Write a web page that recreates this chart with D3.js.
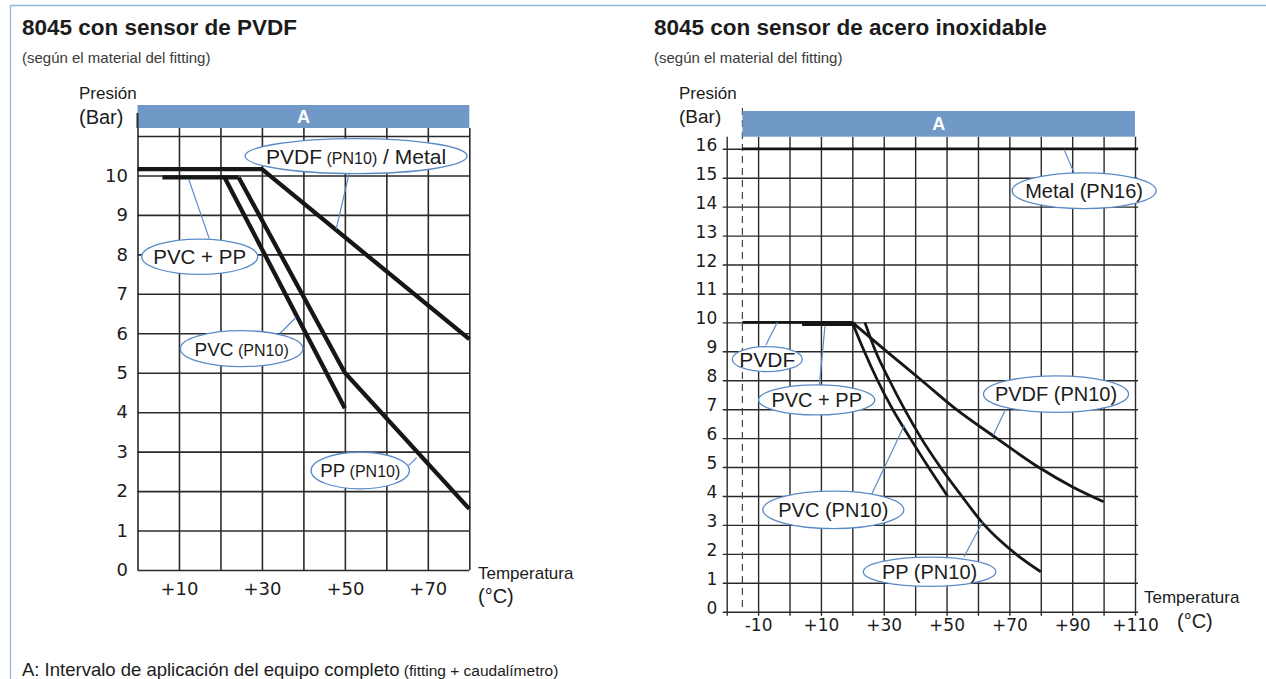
<!DOCTYPE html>
<html lang="es">
<head>
<meta charset="utf-8">
<title>8045 – presión / temperatura</title>
<script src="https://cdn.jsdelivr.net/npm/d3@7/dist/d3.min.js"></script>
<style>
  html, body { margin: 0; padding: 0; background: #fff; }
  svg { display: block; font-family: "Liberation Sans", Arial, Helvetica, sans-serif; }
  text { white-space: pre; }
</style>
</head>
<body>
<svg id="sheet" width="1266" height="679"></svg>
<script>
// ---- 8045 con sensor de PVDF: [temperatura °C, presión bar] ----
const pvdfTempLabels = [10, 30, 50, 70];
const pvdfPressureLabels = [0, 1, 2, 3, 4, 5, 6, 7, 8, 9, 10];
const pvdfMetal = [[0, 10.16], [30, 10.16], [80, 5.85]];
const pvdfPvcPp = [[6, 9.95], [24.4, 9.95]];
const pvdfPvc = [[21, 9.95], [50, 4.1]];
const pvdfPp = [[24.4, 9.95], [50, 5], [80, 1.55]];

// ---- 8045 con sensor de acero inoxidable ----
const steelTempLabels = [-10, 10, 30, 50, 70, 90, 110];
const steelPressureLabels = [0, 1, 2, 3, 4, 5, 6, 7, 8, 9, 10, 11, 12, 13, 14, 15, 16];
const steelMetal = [[-15, 16], [111, 16]];
const steelPvdfFlat = [[-15, 10], [20, 10]];
const steelPvcPpFlat = [[4, 9.94], [21, 9.94]];
const steelPvc = [[20, 10], [23.8, 9], [28, 8], [32.8, 7], [38.4, 6], [44.2, 5], [50.3, 4]];
const steelPp = [[24, 10], [27.4, 9], [31.8, 8], [36.6, 7], [41.9, 6], [48, 5], [54.8, 4], [62, 3], [72, 2], [80, 1.38]];
const steelPvdf = [[20, 10], [30.9, 9], [42, 8], [53, 7], [65.9, 6], [79.2, 5], [90, 4.32], [100, 3.8]];

const fmtTemp = (d) => (d > 0 ? `+${d}` : `${d}`);
const blue = "#5b8bc7";
const ink = "#1c1c1c";

class PressureChart {
  constructor(svg, opts) {
    this.svg = svg;
    Object.assign(this, opts);
    this.init();
  }

  init() {
    this.setup();
    this.renderGrid();
    this.renderBand();
    this.renderSeries();
    this.renderCallouts();
    this.renderTexts();
  }

  setup() {
    this.x = d3.scaleLinear().domain(this.tempDomain).range(this.xRange);
    this.y = d3.scaleLinear().domain(this.pressureDomain).range(this.yRange);
    this.line = d3.line().x((d) => this.x(d[0])).y((d) => this.y(d[1]));
    this.g = this.svg.append("g");
  }

  renderGrid() {
    const [x0, x1] = this.xRange;
    const [t0, t1] = this.tempDomain;
    const [p0, p1] = this.pressureDomain;
    const gridEnd = x1 + this.gridOverhang;

    const yAxis = this.g
      .append("g")
      .attr("transform", `translate(${gridEnd},0)`)
      .call(
        d3
          .axisLeft(this.y)
          .tickValues(d3.range(p0, p1 + 1, 1))
          .tickSize(gridEnd - x0 + this.tickOut)
          .tickPadding(this.yPad)
          .tickFormat((d) => (this.pressureLabels.includes(d) ? d : ""))
      );

    const xAxis = this.g
      .append("g")
      .attr("transform", `translate(0,${this.gridTop})`)
      .call(
        d3
          .axisBottom(this.x)
          .tickValues(d3.range(t0, t1 + 1, 10))
          .tickSize(this.y(p0) - this.gridTop + this.tickOut)
          .tickPadding(this.xPad)
          .tickFormat((d) => (this.tempLabels.includes(d) ? fmtTemp(d) : ""))
      );

    [yAxis, xAxis].forEach((a) => {
      a.select(".domain").remove();
      a.attr("font-family", '"DejaVu Sans", sans-serif').attr("font-size", this.tickFont);
      a.selectAll("line").attr("stroke", "#2a2a2a").attr("stroke-width", this.gridWidth);
      a.selectAll("text").attr("fill", ink);
    });
    yAxis.selectAll("text").attr("dy", this.yLabelDy);

    // dashed lower limit, starts above the band
    if (this.dashedAt !== undefined) {
      this.g
        .append("line")
        .attr("x1", this.x(this.dashedAt))
        .attr("x2", this.x(this.dashedAt))
        .attr("y1", this.dashedTop)
        .attr("y2", this.y(p0))
        .attr("stroke", "#444")
        .attr("stroke-width", 1.2)
        .attr("stroke-dasharray", "7,5");
    }
  }

  renderBand() {
    const bx0 = this.x(this.band[0]);
    const bx1 = this.x(this.band[1]);
    this.g
      .append("rect")
      .attr("x", bx0)
      .attr("y", this.bandTop)
      .attr("width", bx1 - bx0)
      .attr("height", this.gridTop - this.bandTop)
      .attr("fill", "#7099c7");
    this.g
      .append("text")
      .attr("x", (bx0 + bx1) / 2)
      .attr("y", (this.bandTop + this.gridTop) / 2)
      .attr("dy", "0.36em")
      .attr("text-anchor", "middle")
      .attr("font-weight", "bold")
      .attr("font-size", 18)
      .attr("fill", "#fff")
      .text("A");

    // left axis reaching into the band
    if (this.axisTop !== undefined) {
      this.g
        .append("line")
        .attr("x1", this.xRange[0])
        .attr("x2", this.xRange[0])
        .attr("y1", this.axisTop)
        .attr("y2", this.gridTop)
        .attr("stroke", "#2a2a2a")
        .attr("stroke-width", 2);
    }
  }

  renderSeries() {
    this.g
      .append("g")
      .selectAll("path")
      .data(this.series)
      .join("path")
      .attr("d", (d) => this.line.curve(d.curve || d3.curveLinear)(d.points))
      .attr("fill", "none")
      .attr("stroke", "#161616")
      .attr("stroke-width", (d) => d.width)
      .attr("stroke-linejoin", "miter");
  }

  renderCallouts() {
    const c = this.g.append("g").selectAll("g").data(this.callouts).join("g");
    c.append("line")
      .attr("x1", (d) => this.x(d.from[0]))
      .attr("y1", (d) => this.y(d.from[1]))
      .attr("x2", (d) => this.x(d.to[0]))
      .attr("y2", (d) => this.y(d.to[1]))
      .attr("stroke", blue)
      .attr("stroke-width", 1.2);
    c.append("ellipse")
      .attr("cx", (d) => this.x(d.at[0]))
      .attr("cy", (d) => this.y(d.at[1]))
      .attr("rx", (d) => d.rx)
      .attr("ry", (d) => d.ry)
      .attr("fill", "#fff")
      .attr("stroke", blue)
      .attr("stroke-width", 1.3);
    c.append("text")
      .attr("x", (d) => this.x(d.at[0]))
      .attr("y", (d) => this.y(d.at[1]))
      .attr("dy", (d) => d.parts[0][1] * 0.36)
      .attr("text-anchor", "middle")
      .attr("fill", ink)
      .selectAll("tspan")
      .data((d) => d.parts)
      .join("tspan")
      .attr("font-size", (p) => p[1])
      .text((p) => p[0]);
  }

  renderTexts() {
    this.g
      .selectAll(".label")
      .data(this.texts)
      .join("text")
      .attr("class", "label")
      .attr("x", (d) => d.x)
      .attr("y", (d) => d.y)
      .attr("font-size", (d) => d.size)
      .attr("font-weight", (d) => d.weight || "normal")
      .attr("fill", (d) => d.color || ink)
      .text((d) => d.text);
  }
}

const sheet = d3.select("#sheet");

// light blue page frame
sheet.append("line").attr("x1", 10).attr("x2", 1266).attr("y1", 5.5).attr("y2", 5.5)
  .attr("stroke", "#93b3da").attr("stroke-width", 1.3);
sheet.append("line").attr("x1", 10.5).attr("x2", 10.5).attr("y1", 5).attr("y2", 679)
  .attr("stroke", "#93b3da").attr("stroke-width", 1.3);

new PressureChart(sheet, {
  tempDomain: [0, 80],
  xRange: [137.5, 469.3],
  pressureDomain: [0, 11],
  yRange: [570, 136],
  tempLabels: pvdfTempLabels,
  pressureLabels: pvdfPressureLabels,
  gridTop: 128,
  bandTop: 105,
  band: [0, 80],
  axisTop: 113,
  gridOverhang: 0,
  tickOut: 0,
  yPad: 9.5,
  xPad: 12,
  yLabelDy: "0.32em",
  tickFont: 18,
  gridWidth: 1.6,
  series: [
    { points: pvdfMetal, width: 4.3 },
    { points: pvdfPvcPp, width: 4.3 },
    { points: pvdfPvc, width: 4.3 },
    { points: pvdfPp, width: 4.3 },
  ],
  callouts: [
    { parts: [["PVDF", 21], [" (PN10)", 16], [" / Metal", 21]], at: [52.7, 10.49], rx: 111, ry: 17.5, from: [51.0, 10.04], to: [47.9, 8.64] },
    { parts: [["PVC + PP", 20.5]], at: [15.0, 7.94], rx: 58, ry: 17.7, from: [17.3, 8.4], to: [12.4, 9.89] },
    { parts: [["PVC", 19], [" (PN10)", 16]], at: [25.1, 5.61], rx: 61.3, ry: 18, from: [34.4, 6.0], to: [38.2, 6.4] },
    { parts: [["PP", 18.7], [" (PN10)", 16]], at: [53.7, 2.52], rx: 49.2, ry: 18.3, from: [65.3, 2.64], to: [67.3, 2.85] },
  ],
  texts: [
    { text: "8045 con sensor de PVDF", x: 22, y: 34.5, size: 22.5, weight: "bold" },
    { text: "(según el material del fitting)", x: 22, y: 62.5, size: 15, color: "#3a3a3a" },
    { text: "Presión", x: 79, y: 99, size: 17 },
    { text: "(Bar)", x: 79, y: 124, size: 20 },
    { text: "Temperatura", x: 478, y: 579, size: 17 },
    { text: "(°C)", x: 478, y: 603, size: 20 },
  ],
});

new PressureChart(sheet, {
  tempDomain: [-20, 110],
  xRange: [726.7, 1135],
  pressureDomain: [0, 16],
  yRange: [611.7, 148.8],
  tempLabels: steelTempLabels,
  pressureLabels: steelPressureLabels,
  gridTop: 136.7,
  bandTop: 111,
  band: [-15, 110],
  dashedAt: -15,
  dashedTop: 108,
  gridOverhang: 3,
  tickOut: 4,
  yPad: 5.5,
  xPad: 3.6,
  yLabelDy: "1.5px",
  tickFont: 17,
  gridWidth: 1.4,
  series: [
    { points: steelMetal, width: 2.8 },
    { points: steelPvdfFlat, width: 2.8 },
    { points: steelPvcPpFlat, width: 4 },
    { points: steelPvdf, width: 2.8, curve: d3.curveMonotoneX },
    { points: steelPvc, width: 2.8, curve: d3.curveMonotoneX },
    { points: steelPp, width: 2.8, curve: d3.curveMonotoneX },
  ],
  callouts: [
    { parts: [["Metal (PN16)", 20]], at: [93.8, 14.55], rx: 72, ry: 17.8, from: [90.6, 15.17], to: [87.4, 15.98] },
    { parts: [["PVDF", 21]], at: [-7.07, 8.73], rx: 35, ry: 12.5, from: [-7.5, 9.22], to: [-3.9, 10] },
    { parts: [["PVC + PP", 20]], at: [8.65, 7.32], rx: 58, ry: 15, from: [9.48, 7.8], to: [11.3, 9.89] },
    { parts: [["PVC (PN10)", 20]], at: [13.94, 3.52], rx: 70.5, ry: 18.7, from: [26.17, 4.06], to: [36.6, 6.45] },
    { parts: [["PP (PN10)", 20]], at: [44.6, 1.38], rx: 66.3, ry: 14.7, from: [55.55, 1.9], to: [61.5, 3.1] },
    { parts: [["PVDF (PN10)", 20]], at: [84.85, 7.52], rx: 72.5, ry: 18.3, from: [68.8, 7.0], to: [64.9, 6.1] },
  ],
  texts: [
    { text: "8045 con sensor de acero inoxidable", x: 654, y: 34.5, size: 22.5, weight: "bold" },
    { text: "(según el material del fitting)", x: 654, y: 62.5, size: 15, color: "#3a3a3a" },
    { text: "Presión", x: 679, y: 99, size: 17 },
    { text: "(Bar)", x: 679, y: 122.5, size: 19 },
    { text: "Temperatura", x: 1144, y: 603, size: 17 },
    { text: "(°C)", x: 1177, y: 628, size: 20 },
  ],
});

// footnote
const note = sheet.append("text").attr("x", 22).attr("y", 675.5).attr("fill", ink);
note.append("tspan").attr("font-size", 18.5).text("A: Intervalo de aplicación del equipo completo");
note.append("tspan").attr("font-size", 15.5).text(" (fitting + caudalímetro)");
</script>
</body>
</html>
